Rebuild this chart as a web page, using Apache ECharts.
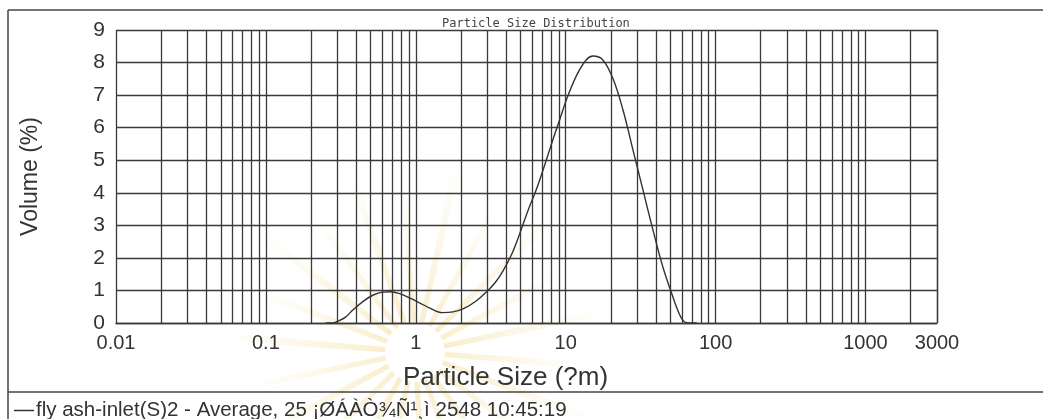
<!DOCTYPE html>
<html>
<head>
<meta charset="utf-8">
<script src="https://cdn.jsdelivr.net/npm/echarts@6/dist/echarts.min.js"></script>
<style>
  html, body { margin: 0; padding: 0; background: #ffffff; }
  #chart { width: 1043px; height: 419px; }
</style>
</head>
<body>
<div id="chart"></div>
<script>
// Particle size (um) and volume (%) of the measured distribution
const sizes = [0.25, 0.28, 0.30, 0.34, 0.38, 0.45, 0.52, 0.60, 0.68, 0.78, 0.90, 1.06, 1.25, 1.50, 1.77,
  2.10, 2.50, 2.96, 3.40, 3.82, 4.40, 4.94, 5.60, 6.37, 7.30, 8.24, 9.20, 10.1, 11.8, 13.7, 15.2,
  17.7, 20.7, 24.1, 28.1, 32.8, 38.2, 44.5, 51.9, 57.0, 60.6, 65.0, 75.0];
const volumes = [0, 0, 0.05, 0.18, 0.40, 0.68, 0.86, 0.95, 0.96, 0.90, 0.78, 0.62, 0.45, 0.32, 0.34,
  0.45, 0.66, 0.95, 1.25, 1.60, 2.15, 2.75, 3.45, 4.10, 4.90, 5.65, 6.30, 6.85, 7.60, 8.08, 8.20,
  8.08, 7.50, 6.55, 5.32, 4.08, 2.86, 1.72, 0.80, 0.30, 0.08, 0, 0];

// Axis range and labelled ticks of the log size axis
const xMin = 0.01;
const xMax = 3000;
const xTickValues = [0.01, 0.1, 1, 10, 100, 1000, 3000];
const xTickLabels = ['0.01', '0.1', '1', '10', '100', '1000', '3000'];
const decades = [0.01, 0.1, 1, 10, 100, 1000];
const multiples = [1, 2, 3, 4, 5, 6, 7, 8, 9];

const seriesName = 'fly ash-inlet(S)2 - Average, 25 ¡ØÁÀÒ¾Ñ¹¸ì 2548 10:45:19';

const lg = Math.log10;
const gridValues = [];
decades.forEach(d => multiples.forEach(m => { if (d * m <= xMax) gridValues.push(lg(d * m)); }));
gridValues.push(lg(xMax));
const labelValues = xTickValues.map(lg);
const labelFor = v => {
  const i = labelValues.findIndex(t => Math.abs(t - v) < 1e-6);
  return i >= 0 ? xTickLabels[i] : '';
};

// faint sunburst emblem behind the plot
const rays = [];
const cx = 415, cy = 352;
const nRays = 22;
for (let i = 0; i < nRays; i++) {
  const a = (i / nRays) * Math.PI * 2 + 0.08;
  const w = 0.085;
  const r0 = 30, r1 = 155 + (i % 2) * 25;
  rays.push({
    type: 'polygon',
    z: -10,
    silent: true,
    shape: { points: [
      [cx + r0 * Math.cos(a - w), cy + r0 * Math.sin(a - w)],
      [cx + r1 * Math.cos(a - w * 0.25), cy + r1 * Math.sin(a - w * 0.25)],
      [cx + r1 * Math.cos(a + w * 0.25), cy + r1 * Math.sin(a + w * 0.25)],
      [cx + r0 * Math.cos(a + w), cy + r0 * Math.sin(a + w)]
    ] },
    style: {
      fill: {
        type: 'radial', x: cx, y: cy, r: r1, global: true,
        colorStops: [
          { offset: 0.15, color: 'rgba(236, 196, 80, 0.30)' },
          { offset: 1, color: 'rgba(240, 214, 130, 0.04)' }
        ]
      }
    }
  });
}

const chart = echarts.init(document.getElementById('chart'), null, { renderer: 'canvas' });
chart.setOption({
  backgroundColor: '#ffffff',
  animation: false,
  title: {
    text: 'Particle Size Distribution',
    left: 437,
    top: 13,
    textStyle: { fontFamily: 'DejaVu Sans Mono', fontSize: 12, fontWeight: 'normal', color: '#444' }
  },
  legend: {
    data: [seriesName],
    left: 9,
    top: 395,
    icon: 'rect',
    itemWidth: 20,
    itemHeight: 1.5,
    itemGap: 0,
    itemStyle: { color: '#333' },
    textStyle: { fontFamily: 'Liberation Sans', fontSize: 20.5, color: '#333', padding: [0, 0, 0, -3] }
  },
  grid: { left: 116, right: 106, top: 30, bottom: 96 },
  xAxis: {
    type: 'value',
    min: lg(xMin),
    max: lg(xMax),
    name: 'Particle Size (?m)',
    nameLocation: 'middle',
    nameGap: 42,
    nameTextStyle: { fontFamily: 'Liberation Sans', fontSize: 26, color: '#333', padding: [0, 42, 0, 0] },
    axisLine: { show: true, lineStyle: { color: '#3a3a3a', width: 1.3 } },
    axisTick: { show: false, customValues: gridValues },
    axisLabel: {
      customValues: labelValues,
      formatter: labelFor,
      margin: 10,
      fontFamily: 'Liberation Sans',
      fontSize: 20,
      color: '#333'
    },
    splitLine: { show: true, lineStyle: { color: '#3a3a3a', width: 1.3 } }
  },
  yAxis: {
    type: 'value',
    min: 0,
    max: 9,
    interval: 1,
    name: 'Volume (%)',
    nameLocation: 'middle',
    nameGap: 74,
    nameTextStyle: { fontFamily: 'Liberation Sans', fontSize: 23, color: '#333' },
    axisLine: { show: false },
    axisTick: { show: false },
    axisLabel: { margin: 11, fontFamily: 'Liberation Sans', fontSize: 21, color: '#333' },
    splitLine: { show: true, lineStyle: { color: '#3a3a3a', width: 1.3 } }
  },
  graphic: [
    ...rays,
    { type: 'line', silent: true, shape: { x1: 8, y1: 10, x2: 1043, y2: 10 }, style: { stroke: '#444', lineWidth: 1.5 } },
    { type: 'line', silent: true, shape: { x1: 8, y1: 10, x2: 8, y2: 419 }, style: { stroke: '#444', lineWidth: 1.5 } },
    { type: 'line', silent: true, shape: { x1: 8, y1: 392, x2: 1043, y2: 392 }, style: { stroke: '#444', lineWidth: 1.5 } }
  ],
  series: [{
    name: seriesName,
    type: 'line',
    data: sizes.map((s, i) => [lg(s), volumes[i]]),
    smooth: 0.35,
    symbol: 'none',
    itemStyle: { color: '#333' },
    lineStyle: { color: '#333', width: 1.4 },
    z: 5
  }]
});
</script>
</body>
</html>
